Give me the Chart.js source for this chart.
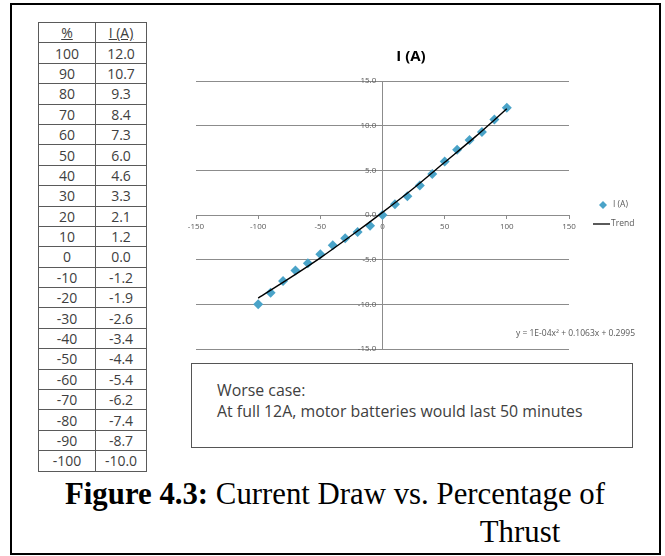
<!DOCTYPE html>
<html>
<head>
<meta charset="utf-8">
<script src="https://cdn.jsdelivr.net/npm/chart.js@4.4.1/dist/chart.umd.min.js"></script>
<style>
  body { margin: 0; background: #fff; }
  #page { position: relative; width: 665px; height: 556px; overflow: hidden; }
  #frame { position: absolute; left: 10px; top: 3px; width: 651px; height: 552px; border: 2px solid #000; box-sizing: border-box; }
  #data { position: absolute; left: 38px; top: 22px; width: 109px; border-collapse: collapse; font-family: "Open Sans", sans-serif; font-size: 14px; color: #404040; }
  #data td { border: 1px solid #5a5a5a; text-align: center; padding: 0; height: 19.4px; line-height: 19px; }
  #data td:first-child { width: 56px; }
  #data thead td { text-decoration: underline; }
  #chartWrap { position: absolute; left: 150px; top: 30px; width: 500px; height: 330px; }
  #note { position: absolute; left: 191px; top: 363px; width: 442px; height: 85px; border: 1.5px solid #555; box-sizing: border-box; font-family: "Open Sans", sans-serif; font-size: 14px; color: #404040; }
  #note div { position: absolute; left: 25px; white-space: nowrap; line-height: 18px; }
  .cap { position: absolute; font-family: "Liberation Serif", serif; font-size: 29px; line-height: 29px; color: #000; white-space: nowrap; }
</style>
</head>
<body>
<div id="page">
  <div id="frame"></div>
  <table id="data"><thead><tr><td>%</td><td>I (A)</td></tr></thead><tbody id="rows"></tbody></table>
  <div id="chartWrap"><canvas id="currentChart" width="500" height="330"></canvas></div>
  <div id="note">
    <div id="note1" style="top:17px">Worse case:</div>
    <div id="note2" style="top:38px">At full 12A, motor batteries would last 50 minutes</div>
  </div>
  <div class="cap" id="cap1" style="left:65px; top:480px;"><b>Figure 4.3:</b> Current Draw vs. Percentage of</div>
  <div class="cap" id="cap2" style="left:487px; top:518px;">Thrust</div>
</div>
<script>
// Thrust (%) and measured current (A)
const percent = [100, 90, 80, 70, 60, 50, 40, 30, 20, 10, 0, -10, -20, -30, -40, -50, -60, -70, -80, -90, -100];
const current = [12.0, 10.7, 9.3, 8.4, 7.3, 6.0, 4.6, 3.3, 2.1, 1.2, 0.0, -1.2, -1.9, -2.6, -3.4, -4.4, -5.4, -6.2, -7.4, -8.7, -10.0];

// Trend line
const trendX = [-100, -75, -50, -25, 0, 25, 50, 75, 100];
const trendY = [-9.3, -7.1, -4.8, -2.3, 0.3, 3.0, 5.9, 8.8, 11.9];

const xTicks = [-150, -100, -50, 0, 50, 100, 150];
const yTicks = [-15, -10, -5, 0, 5, 10, 15];

const titleText = "I (A)";
const equationText = "y = 1E-04x\u00B2 + 0.1063x + 0.2995";

// Table on the left
const rows = document.getElementById("rows");
percent.forEach((p, i) => {
  const tr = document.createElement("tr");
  tr.innerHTML = "<td>" + p + "</td><td>" + current[i].toFixed(1) + "</td>";
  rows.appendChild(tr);
});

// stretch a text line to the width it has in the picture
function fitWidth(el, target) {
  const w = el.getBoundingClientRect().width;
  const size = parseFloat(getComputedStyle(el).fontSize);
  el.style.fontSize = (size * target / w).toFixed(2) + "px";
}
fitWidth(document.getElementById("cap1"), 540);
const cap2 = document.getElementById("cap2");
cap2.style.fontSize = document.getElementById("cap1").style.fontSize;
cap2.style.left = (520 - cap2.getBoundingClientRect().width / 2).toFixed(1) + "px";
fitWidth(document.getElementById("note2"), 366);
document.getElementById("note1").style.fontSize = document.getElementById("note2").style.fontSize;

const seriesColor = "#4aa3c8";
const gridColor = "#8c8c8c";
const tickFont = { family: "Open Sans", size: 8 };

// Title, legend and equation in Excel's spots
const chartText = {
  id: "chartText",
  afterDraw(chart) {
    const ctx = chart.ctx;
    ctx.save();
    ctx.fillStyle = "#000";
    ctx.font = 'bold 15px "Open Sans"';
    ctx.textAlign = "center";
    ctx.textBaseline = "middle";
    ctx.fillText(titleText, 261, 27);

    // legend
    ctx.font = '8.5px "Open Sans"';
    ctx.textAlign = "left";
    ctx.fillStyle = seriesColor;
    ctx.beginPath();
    ctx.moveTo(453, 171);
    ctx.lineTo(457, 175);
    ctx.lineTo(453, 179);
    ctx.lineTo(449, 175);
    ctx.closePath();
    ctx.fill();
    ctx.fillStyle = "#595959";
    ctx.fillText(chart.data.datasets[0].label, 463, 175);
    ctx.strokeStyle = "#000";
    ctx.lineWidth = 1.3;
    ctx.beginPath();
    ctx.moveTo(443, 194);
    ctx.lineTo(460, 194);
    ctx.stroke();
    ctx.fillText(chart.data.datasets[1].label, 461, 194);

    // equation
    ctx.textAlign = "right";
    ctx.fillText(equationText, 485, 304);
    ctx.restore();
  },
};

const ctx = document.getElementById("currentChart").getContext("2d");
const currentChart = new Chart(ctx, {
  type: "scatter",
  data: {
    datasets: [
      {
        label: "I (A)",
        data: percent.map((p, i) => ({ x: p, y: current[i] })),
        pointStyle: "rectRot",
        pointRadius: 5,
        backgroundColor: seriesColor,
        borderColor: seriesColor,
        borderWidth: 0,
        order: 1,
      },
      {
        label: "Trend",
        data: trendX.map((x, i) => ({ x: x, y: trendY[i] })),
        showLine: true,
        borderColor: "#000",
        borderWidth: 1.4,
        pointRadius: 0,
        tension: 0.3,
        order: 0,
      },
    ],
  },
  options: {
    responsive: false,
    animation: false,
    layout: { padding: { left: 46, right: 81, top: 51, bottom: 11 } },
    plugins: {
      legend: { display: false },
      title: { display: false },
      tooltip: { enabled: false },
    },
    scales: {
      x: {
        type: "linear",
        min: -150,
        max: 150,
        position: { y: 0 },
        afterBuildTicks: (scale) => {
          scale.ticks = xTicks.map((v) => ({ value: v }));
        },
        grid: { drawOnChartArea: false, drawTicks: true, tickLength: 3, color: gridColor },
        border: { color: gridColor, width: 1 },
        ticks: { font: tickFont, color: "#595959", padding: 4, maxRotation: 0, autoSkip: false },
      },
      y: {
        type: "linear",
        min: -15,
        max: 15,
        position: { x: 0 },
        afterBuildTicks: (scale) => {
          scale.ticks = yTicks.map((v) => ({ value: v }));
        },
        grid: { color: gridColor, drawTicks: false },
        border: { color: gridColor, width: 1 },
        ticks: {
          font: tickFont,
          color: "#595959",
          padding: 0,
          callback: (v) => v.toFixed(1) + "   ",
        },
      },
    },
  },
  plugins: [chartText],
});
</script>
</body>
</html>
